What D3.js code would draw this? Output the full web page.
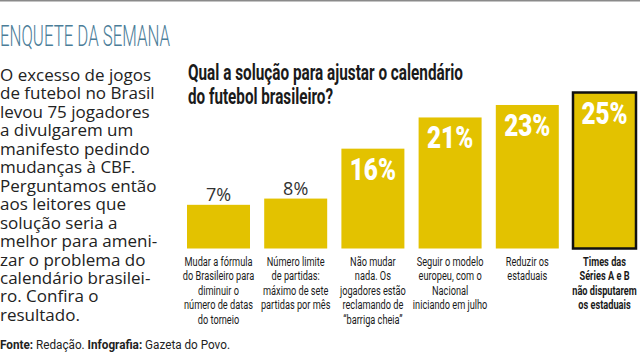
<!DOCTYPE html>
<html><head><meta charset="utf-8">
<script src="https://cdn.jsdelivr.net/npm/d3@7"></script>
<style>body{margin:0;background:#fff}svg{display:block}</style>
</head><body>
<svg id="c" width="640" height="354"></svg>
<script>
const categories = [
  ["Mudar a fórmula","do Brasileiro para","diminuir o","número de datas","do torneio"],
  ["Número limite","de partidas:","máximo de sete","partidas por mês"],
  ["Não mudar","nada. Os","jogadores estão","reclamando de","“barriga cheia”"],
  ["Seguir o modelo","europeu, com o","Nacional","iniciando em julho"],
  ["Reduzir os","estaduais"],
  ["Times das","Séries A e B","não disputarem","os estaduais"]
];
const values = [7, 8, 16, 21, 23, 25];
const valueLabels = ["7%","8%","16%","21%","23%","25%"];
const bodyLines = ["O excesso de jogos","de futebol no Brasil","levou 75 jogadores","a divulgarem um","manifesto pedindo","mudanças à CBF.","Perguntamos então","aos leitores que","solução seria a","melhor para ameni-","zar o problema do","calendário brasilei-","ro. Confira o","resultado."];
const titleLines = ["Qual a solução para ajustar o calendário","do futebol brasileiro?"];

const svg = d3.select("#c");
const barColor = "#e3c200";
const cond = "Roboto, 'DejaVu Sans', sans-serif";

svg.append("rect").attr("x",0).attr("y",0).attr("width",640).attr("height",1.5).attr("fill","#8a8a8a");

svg.append("text").attr("x",0).attr("y",46).attr("textLength",170).attr("lengthAdjust","spacingAndGlyphs")
  .style("font-family",cond).style("font-weight",300).style("font-size","29px").attr("fill","#4b7d98")
  .text("ENQUETE DA SEMANA");

const body = svg.append("text").style("font-family","'Open Sans', sans-serif").style("font-size","17px").attr("fill","#222");
bodyLines.forEach((l,i)=>{
  body.append("tspan").attr("x",0).attr("y",81+i*18.45).text(l);
});

const ft = svg.append("text").attr("x",0).attr("y",349).attr("textLength",230).attr("lengthAdjust","spacingAndGlyphs")
  .style("font-family",cond).style("font-size","12.5px").attr("fill","#222");
ft.append("tspan").style("font-weight",700).text("Fonte:");
ft.append("tspan").text(" Redação. ");
ft.append("tspan").style("font-weight",700).text("Infografia:");
ft.append("tspan").text(" Gazeta do Povo.");

const tw = [275, 145];
titleLines.forEach((l,i)=>{
  svg.append("text").attr("x",188).attr("y",80+i*24).attr("textLength",tw[i]).attr("lengthAdjust","spacingAndGlyphs")
    .style("font-family",cond).style("font-weight",700).style("font-size","21.5px").attr("fill","#1a1a1a").text(l);
});

const x = d3.scaleBand().domain(d3.range(values.length)).range([179.9, 643.1]).paddingInner(0.184).paddingOuter(0.092);
const y = d3.scaleLinear().domain([0, 25]).range([248.5, 92.5]);

const g = svg.append("g");
g.selectAll("rect.bar").data(values).join("rect").attr("class","bar")
  .attr("x",(d,i)=>x(i)).attr("y",d=>y(d)).attr("width",x.bandwidth()).attr("height",d=>y(0)-y(d))
  .attr("fill",barColor)
  .attr("stroke",(d,i)=>i===values.length-1?"#111":"none").attr("stroke-width",2.5);

values.forEach((v,i)=>{
  const cx = x(i)+x.bandwidth()/2;
  if (v < 10) {
    svg.append("text").attr("x",cx).attr("y",y(v)-4).attr("text-anchor","middle")
      .style("font-family","'Open Sans', sans-serif").style("font-size","18px").attr("fill","#333").text(valueLabels[i]);
  } else {
    svg.append("g").attr("transform",`translate(${cx},${y(v)+31}) scale(0.76,1)`)
      .append("text").attr("text-anchor","middle").style("font-family",cond).style("font-weight",900)
      .style("font-size","32px").attr("fill","#fff").text(valueLabels[i]);
  }
  const lg = svg.append("g").attr("transform",`translate(${cx},266) scale(0.72,1)`);
  const t = lg.append("text").attr("text-anchor","middle").style("font-family",cond).style("font-size","12.8px")
    .style("font-weight", i===values.length-1?700:400).attr("fill","#1a1a1a");
  categories[i].forEach((l,j)=>t.append("tspan").attr("x",0).attr("y",j*14.5).text(l));
});
</script>
</body></html>
